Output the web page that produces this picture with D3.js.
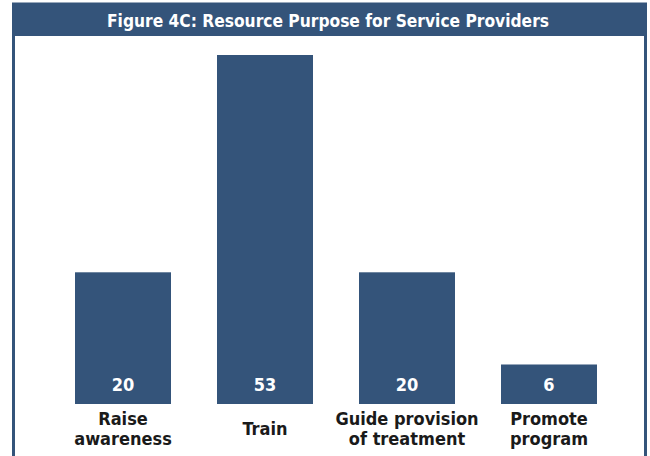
<!DOCTYPE html>
<html>
<head>
<meta charset="utf-8">
<script src="https://cdn.jsdelivr.net/npm/d3@7"></script>
<style>
  body { margin: 0; background: #fff; }
  text { font-family: "Liberation Sans Narrow", "DejaVu Sans Condensed", "Roboto", sans-serif; font-weight: bold; }
</style>
</head>
<body>
<div id="chart"></div>
<script>
// data
var title = "Figure 4C: Resource Purpose for Service Providers";
var purposes = ["Raise|awareness", "Train", "Guide provision|of treatment", "Promote|program"];
var counts = [20, 53, 20, 6];

var W = 650, H = 456;
var navy = "#34547a";

var svg = d3.select("#chart").append("svg")
    .attr("width", W)
    .attr("height", H);

// frame
svg.append("rect")
    .attr("x", 13.5).attr("y", 4)
    .attr("width", 632).attr("height", 460)
    .attr("fill", "none")
    .attr("stroke", navy)
    .attr("stroke-width", 3);

// header bar
svg.append("rect")
    .attr("x", 12).attr("y", 4)
    .attr("width", 635).attr("height", 32)
    .attr("fill", navy);

svg.append("text")
    .attr("x", 328).attr("y", 27)
    .attr("text-anchor", "middle")
    .attr("fill", "#fff")
    .attr("font-size", 18)
    .attr("textLength", 442)
    .attr("lengthAdjust", "spacingAndGlyphs")
    .text(title);

var x = d3.scaleBand()
    .domain(purposes)
    .range([52, 620])
    .paddingInner(0.324)
    .paddingOuter(0.162);

var y = d3.scaleLinear()
    .domain([0, d3.max(counts)])
    .range([404, 55]);

var bars = svg.selectAll(".bar")
    .data(purposes)
    .enter().append("g")
    .attr("class", "bar");

bars.append("rect")
    .attr("x", function (d) { return x(d); })
    .attr("y", function (d, i) { return y(counts[i]); })
    .attr("width", x.bandwidth())
    .attr("height", function (d, i) { return y(0) - y(counts[i]); })
    .attr("fill", navy);

bars.append("text")
    .attr("x", function (d) { return x(d) + x.bandwidth() / 2; })
    .attr("y", 391)
    .attr("text-anchor", "middle")
    .attr("fill", "#fff")
    .attr("font-size", 18)
    .text(function (d, i) { return counts[i]; });

// category labels, one or two lines
bars.append("text")
    .attr("text-anchor", "middle")
    .attr("fill", "#1a1a1a")
    .attr("font-size", 18)
    .each(function (d) {
        var lines = d.split("|");
        var t = d3.select(this);
        var y0 = lines.length == 1 ? 435 : 425;
        lines.forEach(function (s, k) {
            t.append("tspan")
                .attr("x", x(d) + x.bandwidth() / 2)
                .attr("y", y0 + k * 20)
                .text(s);
        });
    });
</script>
</body>
</html>
